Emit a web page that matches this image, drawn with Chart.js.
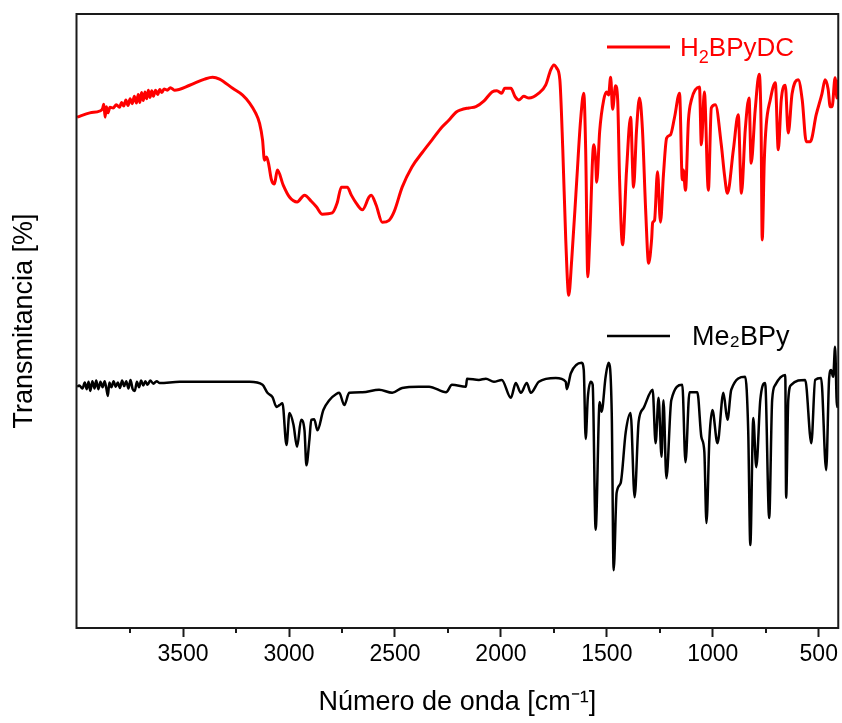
<!DOCTYPE html>
<html>
<head>
<meta charset="utf-8">
<script src="https://cdn.jsdelivr.net/npm/chart.js@4"></script>
<style>
    html, body { margin: 0; padding: 0; background: #fff; }
    #wrap { width: 842px; height: 723px; }
</style>
</head>
<body>
<div id="wrap"><canvas id="ChartCanvas1" width="842" height="723"></canvas></div>
<script>
// H2BPyDC spectrum (red)
const redWavenumber = [4000, 3940, 3893, 3880, 3874, 3868, 3862, 3855, 3845, 3830, 3815, 3800, 3790, 3780, 3770, 3760,
    3750, 3740, 3730, 3720, 3712, 3704, 3696, 3688, 3680, 3672, 3664, 3656, 3648, 3640, 3630, 3620, 3610, 3600,
    3590, 3575, 3560,
    3540, 3469, 3398, 3361, 3328, 3266, 3219, 3186, 3158, 3139, 3125, 3116, 3106, 3097, 3083, 3069, 3055, 3027,
    2998, 2962, 2927, 2895, 2871, 2843, 2796, 2773, 2753, 2725, 2706, 2683, 2654, 2622, 2612, 2589, 2560, 2528,
    2504, 2466, 2420, 2372, 2325, 2278, 2246, 2212, 2189, 2151, 2118, 2081, 2042, 2019, 1996, 1982, 1953, 1934,
    1915, 1892, 1868, 1821, 1789, 1765, 1750, 1737, 1722, 1708, 1694, 1680, 1666, 1642, 1624, 1609, 1600, 1590,
    1581, 1562, 1553, 1548, 1534, 1515, 1501, 1492, 1482, 1473, 1459, 1449, 1440, 1426, 1407, 1388, 1374, 1360,
    1346, 1332, 1317, 1303, 1289, 1284, 1275, 1261, 1247, 1233, 1218, 1200, 1181, 1157, 1144, 1139, 1129, 1115,
    1101, 1063, 1054, 1040, 1021, 1007, 988, 960, 945, 931, 903, 880, 865, 847, 829, 819, 800, 781, 772, 767,
    757, 748, 729, 705, 691, 677, 658, 644, 626, 597, 578, 559, 540, 512, 485, 470, 456, 446, 437, 423, 414, 409];
const redTransmittance = [83.2, 83.9, 84.2, 84.6, 85.3, 83.2, 84.9, 83.9, 84.8, 84.7, 85.2, 84.8, 85.6, 85.0, 86.0, 85.1,
    86.2, 85.4, 86.6, 85.5, 86.9, 85.6, 87.2, 85.9, 87.3, 86.2, 87.6, 86.4, 87.5, 86.6, 87.6, 86.9, 87.7, 87.2,
    87.8, 87.6, 88.0,
    87.6, 88.4, 89.4, 89.7, 89.4, 87.9, 86.8, 85.5, 83.9, 82.2, 79.5, 76.2, 76.7, 75.7, 73.0, 72.3, 74.6, 72.1,
    70.2, 69.4, 70.5, 69.5, 68.6, 67.4, 67.6, 69.2, 71.8, 71.8, 70.5, 69.2, 68.1, 70.2, 70.5, 68.9, 66.1, 66.4,
    67.8, 71.8, 75.1, 77.4, 79.5, 81.6, 82.7, 84.0, 84.4, 84.7, 84.9, 85.8, 87.3, 87.5, 87.1, 87.9, 87.9, 86.6,
    86.0, 86.6, 86.3, 87.1, 88.4, 90.9, 91.7, 91.2, 89.3, 77.9, 63.2, 54.2, 59.9, 73.0, 82.7, 87.1, 77.9, 57.2,
    63.2, 78.7, 76.2, 72.6, 80.9, 86.0, 87.3, 86.8, 89.7, 84.5, 88.3, 86.0, 73.0, 62.4, 74.6, 83.2, 71.8, 81.1,
    86.3, 81.1, 68.1, 59.4, 63.2, 66.0, 66.4, 74.3, 66.1, 73.8, 79.8, 80.3, 83.1, 87.1, 73.0, 74.6, 71.3, 82.7,
    86.0, 88.1, 78.7, 87.3, 71.3, 84.7, 85.2, 78.7, 73.8, 70.8, 77.9, 83.6, 70.8, 81.1, 86.3, 75.7, 84.4, 90.2, 81.1, 63.2,
    76.2, 81.9, 86.0, 88.8, 77.9, 86.0, 88.4, 80.6, 87.0, 89.3, 86.0, 79.2, 79.2, 83.6, 87.0, 89.3, 87.8, 84.9, 84.9, 89.6, 86.3, 89.3];

// Me2BPy spectrum (black)
const blackWavenumber = [4000, 3990, 3975, 3964, 3955, 3946, 3938, 3928, 3918, 3910, 3900, 3890, 3880, 3870, 3862,
    3855, 3848, 3838, 3828, 3818, 3808, 3798, 3788, 3778, 3768, 3758, 3748, 3738, 3728, 3718, 3708, 3698, 3688,
    3678, 3668, 3655, 3640, 3625, 3610,
    3516, 3422, 3281, 3186, 3125, 3102, 3078, 3059, 3045, 3031, 3012, 2998, 2979, 2962, 2943, 2927, 2918, 2904,
    2895, 2881, 2866, 2838, 2810, 2777, 2763, 2739, 2716, 2654, 2575, 2513, 2466, 2387, 2339, 2259, 2231, 2165,
    2160, 2104, 2071, 2033, 1996, 1953, 1930, 1906, 1878, 1859, 1821, 1741, 1694, 1689, 1670, 1619, 1609, 1600,
    1590, 1576, 1567, 1553, 1534, 1525, 1506, 1492, 1477, 1468, 1454, 1435, 1411, 1388, 1369, 1350, 1327, 1284,
    1270, 1256, 1242, 1233, 1219, 1196, 1144, 1129, 1110, 1073, 1054, 1040, 1030, 1016, 1002, 978, 950, 931, 913,
    847, 833, 823, 809, 795, 776, 753, 734, 720, 705, 658, 654, 644, 630, 564, 535, 517, 489, 465, 451, 442, 432,
    423, 414, 409];
const blackTransmittance = [39.3, 39.5, 39.0, 40.0, 38.9, 40.1, 38.6, 40.2, 39.0, 40.3, 38.9, 40.1, 39.2, 40.2, 39.0,
    37.8, 40.0, 39.2, 40.2, 39.3, 40.0, 39.1, 40.3, 39.4, 40.2, 39.0, 40.4, 38.9, 38.6, 40.1, 39.2, 40.3, 39.5,
    40.2, 39.6, 40.3, 39.8, 40.2, 39.9,
    40.1, 40.1, 40.1, 40.1, 39.6, 38.3, 37.6, 36.0, 36.3, 36.6, 29.8, 35.0, 33.1, 29.5, 33.9, 32.2, 26.5, 30.6,
    33.9, 34.0, 32.2, 35.5, 37.1, 38.1, 38.3, 36.3, 38.3, 38.4, 38.8, 38.3, 39.1, 39.3, 39.3, 38.4, 39.6, 39.3,
    40.6, 40.4, 40.6, 40.1, 40.4, 37.5, 39.9, 38.3, 39.9, 38.3, 40.1, 40.7, 40.1, 38.9, 41.5, 43.2, 42.0, 30.8,
    37.5, 40.1, 39.6, 16.0, 36.8, 35.2, 40.9, 43.2, 35.0, 9.4, 22.0, 23.6, 31.9, 35.0, 21.3, 33.6, 35.8, 38.8,
    30.1, 37.5, 27.9, 37.1, 24.4, 37.1, 39.6, 27.0, 38.4, 38.4, 31.1, 28.7, 17.1, 30.9, 35.5, 30.1, 38.3, 33.9, 38.8,
    40.9, 32.2, 13.5, 34.2, 26.2, 37.1, 39.9, 17.9, 37.1, 39.6, 41.2, 21.2, 37.1, 39.6, 40.4, 30.1, 40.4, 40.7, 25.7, 40.7, 42.0, 40.9,
    45.8, 36.0, 36.8];

const xTicks      = [3500, 3000, 2500, 2000, 1500, 1000, 500];
const xMinorTicks = [3750, 3250, 2750, 2250, 1750, 1250, 750];

const frameColor = '#1a1a1a';

Initialize();

function Initialize()
{
    const ctx = document.getElementById('ChartCanvas1').getContext('2d');

    // Frame, minor ticks and the two labels placed next to their curves
    const extras =
    {
        id: 'extras',
        afterDatasetsDraw(chart)
        {
            const c = chart.ctx;
            const a = chart.chartArea;
            const xs = chart.scales.x;

            c.save();
            c.strokeStyle = frameColor;
            c.lineWidth = 2;
            c.strokeRect(a.left, a.top, a.right - a.left, a.bottom - a.top);

            xMinorTicks.forEach(v =>
            {
                const px = Math.round(xs.getPixelForValue(v));
                c.beginPath();
                c.moveTo(px, a.bottom);
                c.lineTo(px, a.bottom + 5);
                c.stroke();
            });

            // H2BPyDC
            c.lineWidth = 3;
            c.strokeStyle = '#ff0000';
            c.beginPath();
            c.moveTo(607, 47);
            c.lineTo(670, 47);
            c.stroke();
            c.fillStyle = '#ff0000';
            c.textBaseline = 'alphabetic';
            c.font = '26px "Liberation Sans", Arial, sans-serif';
            let x = 680;
            c.fillText('H', x, 56);
            x += c.measureText('H').width;
            c.font = '18px "Liberation Sans", Arial, sans-serif';
            c.fillText('2', x, 63);
            x += c.measureText('2').width;
            c.font = '26px "Liberation Sans", Arial, sans-serif';
            c.fillText('BPyDC', x, 56);

            // Me2BPy
            c.strokeStyle = '#000';
            c.lineWidth = 2.5;
            c.beginPath();
            c.moveTo(607, 336);
            c.lineTo(670, 336);
            c.stroke();
            c.fillStyle = '#000';
            c.font = '27px "Liberation Sans", Arial, sans-serif';
            c.fillText('Me\u2082BPy', 692, 345);
            c.restore();
        }
    };

    const chart = new Chart(ctx,
    {
        type: 'line',
        data:
        {
            datasets:
            [
                {
                    label: 'H2BPyDC',
                    data: redWavenumber.map((w, i) => ({x: w, y: redTransmittance[i]})),
                    borderColor: '#ff0000',
                    borderWidth: 3,
                    pointRadius: 0,
                    cubicInterpolationMode: 'monotone'
                },
                {
                    label: 'Me2BPy',
                    data: blackWavenumber.map((w, i) => ({x: w, y: blackTransmittance[i]})),
                    borderColor: '#000000',
                    borderWidth: 2.5,
                    pointRadius: 0,
                    cubicInterpolationMode: 'monotone'
                }
            ]
        },
        options:
        {
            responsive: false,
            animation: false,
            layout: { padding: { top: 14, right: 2, left: 0, bottom: 0 } },
            plugins:
            {
                legend: { display: false },
                tooltip: { enabled: false }
            },
            scales:
            {
                x:
                {
                    type: 'linear',
                    reverse: true,
                    min: 408,
                    max: 4003,
                    afterBuildTicks: scale => { scale.ticks = xTicks.map(v => ({value: v})); },
                    afterFit: scale => { scale.height = 95; },
                    border: { display: false },
                    grid:
                    {
                        drawOnChartArea: false,
                        drawTicks: true,
                        tickLength: 9,
                        tickWidth: 2,
                        tickColor: frameColor
                    },
                    ticks:
                    {
                        color: '#000',
                        padding: 4,
                        maxRotation: 0,
                        callback: v => String(v),
                        font: { family: '"Liberation Sans", Arial, sans-serif', size: 23 }
                    },
                    title:
                    {
                        display: true,
                        text: 'Número de onda [cm\u207B\u00B9]',
                        color: '#000',
                        padding: { top: 0, bottom: 4 },
                        font: { family: '"Liberation Sans", Arial, sans-serif', size: 27 }
                    }
                },
                y:
                {
                    min: 0,
                    max: 100,
                    afterFit: scale => { scale.width = 76.5; },
                    border: { display: false },
                    grid: { display: false },
                    ticks: { display: false },
                    title:
                    {
                        display: true,
                        text: 'Transmitancia [%]',
                        color: '#000',
                        padding: { top: 8, bottom: 0 },
                        font: { family: '"Liberation Sans", Arial, sans-serif', size: 27 }
                    }
                }
            }
        },
        plugins: [extras]
    });
}
</script>
</body>
</html>
